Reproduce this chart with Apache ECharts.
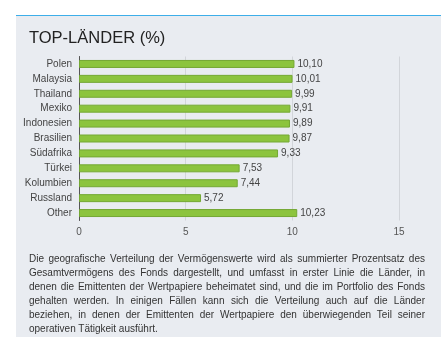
<!DOCTYPE html>
<html>
<head>
<meta charset="utf-8">
<script src="https://cdn.jsdelivr.net/npm/echarts@6/dist/echarts.min.js"></script>
<style>
  html, body { margin: 0; padding: 0; width: 445px; height: 354px; background: #fff; overflow: hidden; }
  .panel {
    position: absolute; left: 16px; top: 15px; width: 425px; height: 321px;
    background: #e9ecf1; border-top: 1px solid #3daee9;
  }
  #chart { position: absolute; left: 0; top: 0; width: 445px; height: 354px; }
  .note {
    position: absolute; left: 29px; top: 252px; width: 396px;
    font-family: "Liberation Sans", Arial, sans-serif; font-size: 10px; line-height: 14px;
    color: #333; text-align: justify;
  }
</style>
</head>
<body>
<div class="panel"></div>
<div id="chart"></div>
<div class="note">Die geografische Verteilung der Vermögenswerte wird als summierter Prozentsatz des Gesamtvermögens des Fonds dargestellt, und umfasst in erster Linie die Länder, in denen die Emittenten der Wertpapiere beheimatet sind, und die im Portfolio des Fonds gehalten werden. In einigen Fällen kann sich die Verteilung auch auf die Länder beziehen, in denen der Emittenten der Wertpapiere den überwiegenden Teil seiner operativen Tätigkeit ausführt.</div>
<script>
  var countries = ['Polen', 'Malaysia', 'Thailand', 'Mexiko', 'Indonesien', 'Brasilien', 'Südafrika', 'Türkei', 'Kolumbien', 'Russland', 'Other'];
  var weights = [10.10, 10.01, 9.99, 9.91, 9.89, 9.87, 9.33, 7.53, 7.44, 5.72, 10.23];

  var chart = echarts.init(document.getElementById('chart'));
  chart.setOption({
    animation: false,
    title: {
      text: 'TOP-LÄNDER (%)',
      left: 29,
      top: 30,
      padding: 0,
      textStyle: { fontFamily: 'Liberation Sans', fontSize: 16.5, fontWeight: 'normal', color: '#222' }
    },
    grid: { left: 79, right: 46, top: 56.5, height: 164, containLabel: false },
    xAxis: {
      type: 'value',
      min: 0,
      max: 15,
      interval: 5,
      axisLine: { show: false },
      axisTick: { show: false },
      axisLabel: { color: '#555', fontFamily: 'Liberation Sans', fontSize: 10, margin: 7 },
      splitLine: { lineStyle: { color: '#d2d5da', width: 1 } }
    },
    yAxis: {
      type: 'category',
      data: countries,
      inverse: true,
      axisLine: { show: true, lineStyle: { color: '#555', width: 1 } },
      axisTick: { show: false },
      axisLabel: { color: '#444', fontFamily: 'Liberation Sans', fontSize: 10, margin: 7 }
    },
    series: [{
      type: 'bar',
      data: weights,
      barWidth: 8,
      itemStyle: { color: '#8cc43e', borderColor: '#74a834', borderWidth: 1 },
      label: {
        show: true,
        position: 'right',
        distance: 3,
        color: '#444',
        fontFamily: 'Liberation Sans',
        fontSize: 10,
        formatter: function (p) { return p.value.toFixed(2).replace('.', ','); }
      }
    }]
  });
</script>
</body>
</html>
